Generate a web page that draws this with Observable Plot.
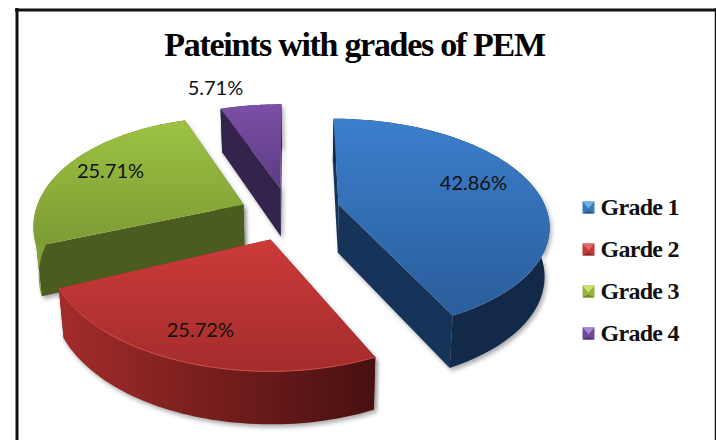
<!DOCTYPE html>
<html>
<head>
<meta charset="utf-8">
<script src="https://cdn.jsdelivr.net/npm/d3@7"></script>
<script src="https://cdn.jsdelivr.net/npm/@observablehq/plot@0.6"></script>
<style>
html,body{margin:0;padding:0;background:#fff}
.soft{filter:blur(2px)}
.tight-title text{letter-spacing:-1.3px}
.tight-legend text{letter-spacing:-.7px}
svg{display:block}
</style>
</head>
<body>
<div id="chart"></div>
<script>
const chartTitle = "Pateints with grades of PEM";
const grades = ["Grade 1", "Garde 2", "Grade 3", "Grade 4"];
const shares = [42.86, 25.72, 25.71, 5.71];

// Projection of each exploded slice (apex, radii, perspective, shear, thickness)
const views = [
  {cx:338, cy:204, R:206, e:102, k:.19,  s:.058, t:0,    lr:.72, da:-4.4},
  {cx:270, cy:239, R:222, e:120, k:.09,  s:0,    t:0,    lr:.77, da:2},
  {cx:243, cy:204, R:204, e:108, k:.239, s:0,    t:.024, lr:.76, da:0},
  {cx:280, cy:188, R:206, e:101, k:.2,   s:-.012,t:0,    lr:1.30,da:-7.7}
];
const faces = [
  {top:"url(#gBlueTop)",  wall:"#13294a", cut:"#16335a", rim:null},
  {top:"url(#gRedTop)",   wall:"url(#gRedWall)", cut:"#7a1f1f", rim:"#cf4a48"},
  {top:"url(#gGreenTop)", wall:"url(#gGreenWall)", cut:"#4a5d1e", rim:null},
  {top:"url(#gPurpleTop)",wall:"#33234d", cut:"#33234d", rim:null}
];
const swatches = [["#6fb0e6","#3d78bb","#2a5a92"],["#e26a66","#c23a38","#8e2a28"],["#cfe070","#94b53c","#6d8a2c"],["#a888cc","#6f4a9b","#4f3473"]];

const total = d3.sum(shares);
const ends = Array.from(d3.cumsum(shares), d => d / total * 2 * Math.PI);
const starts = [0, ...ends.slice(0, -1)];

function proj(view, th, r = 1) {
  const u = r * Math.sin(th), v = -r * Math.cos(th), w = 1 / (1 - view.k * v);
  const Y = view.e * v * w, X = view.R * u * w + view.s * Y;
  return {x: view.cx + X, y: view.cy + Y + view.t * X, v};
}
function drop(p) { // point on the underside of the slab
  return {x: 300 + (p.x - 300) * .98, y: p.y + 48 + 5 * (p.v ?? 0)};
}
const arc = (view, a, b) => d3.range(0, 61).map(i => proj(view, a + (b - a) * i / 60));

const grad = (id, x2, y2, c1, c2) => `<linearGradient id="${id}" x1="0" y1="0" x2="${x2}" y2="${y2}"><stop offset="0" stop-color="${c1}"/><stop offset="1" stop-color="${c2}"/></linearGradient>`;
const defsMark = () => {
  const g = document.createElementNS("http://www.w3.org/2000/svg", "defs");
  g.innerHTML =
    grad("gBlueTop",0,1,"#3b7fcc","#2a5d9b") +
    grad("gRedTop",0,1,"#cb3b3a","#a42c2b") +
    grad("gGreenTop",0,1,"#9dc243","#7d9b34") +
    grad("gPurpleTop",0,1,"#7c50a6","#5c3b82") +
    grad("gRedWall",1,0,"#a32c2a","#471010") +
    grad("gGreenWall",1,0,"#84a338","#4a5d1e");
  return g;
};

const poly = (pts, fill, extra = {}) => Plot.line([...pts, pts[0]], {x:"x", y:"y", fill, stroke:"none", ...extra});

const sliceMarks = [];
for (const i of [0, 3, 2, 1]) {
  const view = views[i], face = faces[i];
  const rim = arc(view, starts[i], ends[i]);
  const apex = {x: view.cx, y: view.cy, v: 0};
  const first = rim[0], last = rim[rim.length - 1];
  const wallPts = [...rim, ...rim.map(drop).reverse()];
  const cutA = [apex, first, drop(first), drop(apex)];
  const cutB = [apex, last, drop(last), drop(apex)];
  for (const p of [wallPts, cutA, cutB]) sliceMarks.push(poly(p, "#777", {dx:2, dy:3, fillOpacity:.6, className:"soft"}));
  sliceMarks.push(poly(cutA, face.cut), poly(cutB, face.cut), poly(wallPts, face.wall));
  sliceMarks.push(poly([apex, ...rim], face.top));
  if (face.rim) sliceMarks.push(Plot.line(rim, {x:"x", y:"y", stroke:face.rim, strokeWidth:1}));
}

const labels = shares.map((d, i) => {
  const v = views[i];
  const mid = (starts[i] + ends[i]) / 2 + v.da * Math.PI / 180;
  return {...proj(v, mid, v.lr), text: d.toFixed(2) + "%"};
});

const legendY = d3.scalePoint().domain(grades).range([207, 333]);
const swatchMarks = grades.flatMap((g, i) => {
  const y = legendY(g), x0 = 582, x1 = 594, y0 = y - 6, y1 = y + 6, mx = 588;
  return [
    poly([{x:x0,y:y0},{x:x1,y:y0},{x:x1,y:y1},{x:x0,y:y1}], swatches[i][1]),
    poly([{x:x0,y:y0},{x:x1,y:y0},{x:mx,y:y+1}], swatches[i][0]),
    poly([{x:x0,y:y1},{x:x1,y:y1},{x:mx,y:y+3}], swatches[i][2])
  ];
});

const serif = "'Liberation Serif', serif";
const plot = Plot.plot({
  width:716, height:440, margin:0,
  style:{background:"#fff"},
  x:{domain:[0,716], range:[0,716], axis:null},
  y:{domain:[0,440], range:[0,440], axis:null},
  marks:[
    defsMark,
    Plot.ruleX([16.5], {y1:8, y2:440, stroke:"#111", strokeWidth:3}),
    Plot.ruleX([715], {y1:8, y2:440, stroke:"#111", strokeWidth:1.5}),
    Plot.ruleY([9.5], {x1:15, x2:716, stroke:"#111", strokeWidth:3}),
    ...sliceMarks,
    Plot.text(labels, {x:"x", y:"y", text:"text", fontFamily:"Lato, sans-serif", fontSize:20, fill:"#111"}),
    Plot.text([chartTitle], {x:[354], y:[45], text:d=>d, fontFamily:serif, fontWeight:"bold", fontSize:34, fill:"#000", className:"tight-title"}),
    ...swatchMarks,
    Plot.text(grades, {x:[600,600,600,600], y:d=>legendY(d), text:d=>d, textAnchor:"start", fontFamily:serif, fontWeight:"bold", fontSize:24, fill:"#111", className:"tight-legend"})
  ]
});
document.getElementById("chart").append(plot);
</script>
</body>
</html>
